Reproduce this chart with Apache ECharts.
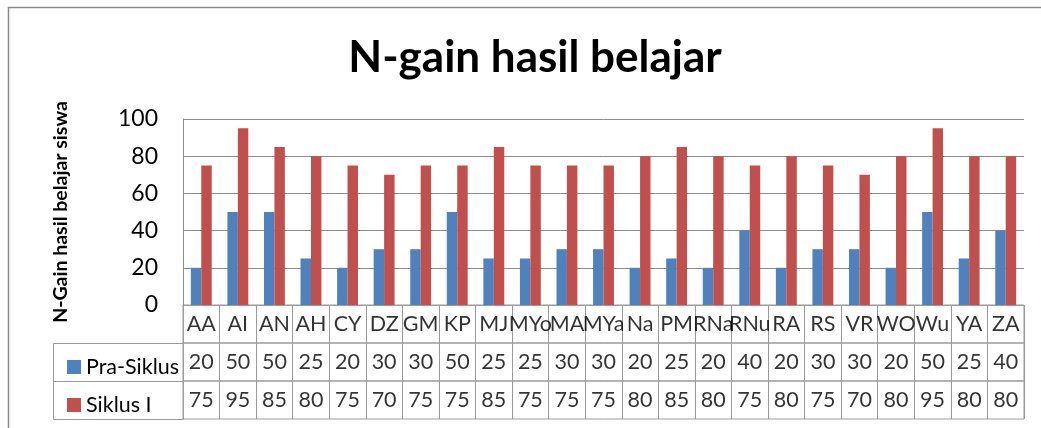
<!DOCTYPE html>
<html>
<head>
<meta charset="utf-8">
<script src="https://cdn.jsdelivr.net/npm/echarts@6/dist/echarts.min.js"></script>
<style>
html,body{margin:0;padding:0;background:#fff;}
#c{width:1041px;height:428px;}
</style>
</head>
<body>
<div id="c"></div>
<script>
const categories = ['AA','AI','AN','AH','CY','DZ','GM','KP','MJ','MYo','MA','MYa','Na','PM','RNa','RNu','RA','RS','VR','WO','Wu','YA','ZA'];
const praSiklus = [20,50,50,25,20,30,30,50,25,25,30,30,20,25,20,40,20,30,30,20,50,25,40];
const siklusI = [75,95,85,80,75,70,75,75,85,75,75,75,80,85,80,75,80,75,70,80,95,80,80];
const yTicks = [0,20,40,60,80,100];
const seriesNames = ['Pra-Siklus','Siklus I'];

const FONT = 'Lato';
const BLUE = '#4F81BD', RED = '#C0504D';
const GRIDC = '#8c8c8c', TABC = '#9a9a9a';
const L = 183, W = 841;

const chart = echarts.init(document.getElementById('c'), null, {renderer: 'canvas'});

function tableRowSeries(idx, labels) {
  return {
    type: 'scatter', xAxisIndex: idx, yAxisIndex: idx,
    symbolSize: 0, silent: true,
    data: labels.map((v, i) => [i, 0.5, v]),
    label: {
      show: true, position: 'inside',
      formatter: p => String(p.data[2]),
      fontFamily: FONT, fontSize: 21.5, color: '#000'
    }
  };
}

const rowTops = [305, 343, 381];
const grids = [{left: L, width: W, top: 119, height: 186}];
rowTops.forEach(t => grids.push({left: L, width: W, top: t, height: 38, show: true, borderColor: TABC, borderWidth: 1, backgroundColor: 'transparent'}));

const xAxes = [{
  type: 'category', gridIndex: 0, data: categories,
  axisLine: {show: true, lineStyle: {color: TABC}},
  axisTick: {show: false}, axisLabel: {show: false}
}];
const yAxes = [{
  type: 'value', gridIndex: 0, min: yTicks[0], max: yTicks[yTicks.length - 1], interval: yTicks[1] - yTicks[0],
  axisLine: {show: true, lineStyle: {color: GRIDC}},
  axisTick: {show: false},
  axisLabel: {fontFamily: FONT, fontSize: 23, color: '#000', margin: 25},
  splitLine: {show: true, lineStyle: {color: GRIDC, width: 1}},
  name: 'N-Gain hasil belajar siswa', nameLocation: 'middle', nameRotate: 90,
  nameGap: 112,
  nameTextStyle: {fontFamily: FONT, fontWeight: 'bold', fontSize: 19.5, color: '#000'}
}];
for (let k = 1; k <= 3; k++) {
  xAxes.push({
    type: 'category', gridIndex: k, data: categories,
    axisLine: {show: false}, axisTick: {show: false}, axisLabel: {show: false},
    splitLine: {show: true, lineStyle: {color: TABC, width: 1}}
  });
  yAxes.push({type: 'value', gridIndex: k, min: 0, max: 1, show: false});
}

const option = {
  animation: false,
  backgroundColor: '#fff',
  title: {
    text: 'N-gain hasil belajar', left: 530, top: 31, textAlign: 'center',
    textStyle: {fontFamily: FONT, fontWeight: 'bold', fontSize: 44, color: '#000'}
  },
  legend: [
    {data: [seriesNames[0]], left: 62, top: 351, itemWidth: 14, itemHeight: 14, itemGap: 0,
     icon: 'rect', textStyle: {fontFamily: FONT, fontSize: 21.5, color: '#000'}, selectedMode: false},
    {data: [seriesNames[1]], left: 62, top: 389, itemWidth: 14, itemHeight: 14, itemGap: 0,
     icon: 'rect', textStyle: {fontFamily: FONT, fontSize: 21.5, color: '#000'}, selectedMode: false}
  ],
  grid: grids,
  xAxis: xAxes,
  yAxis: yAxes,
  series: [
    {name: seriesNames[0], type: 'bar', data: praSiklus, itemStyle: {color: BLUE},
     barGap: '0%', barCategoryGap: '42.86%'},
    {name: seriesNames[1], type: 'bar', data: siklusI, itemStyle: {color: RED},
     barGap: '0%', barCategoryGap: '42.86%'},
    tableRowSeries(1, categories),
    tableRowSeries(2, praSiklus),
    tableRowSeries(3, siklusI)
  ],
  graphic: [
    {type: 'rect', shape: {x: 8.5, y: 7.5, width: 1100, height: 600}, style: {fill: 'none', stroke: '#8a8a8a', lineWidth: 1.5}, silent: true},
    {type: 'rect', shape: {x: 53.5, y: 343.5, width: 130, height: 76}, style: {fill: 'none', stroke: TABC, lineWidth: 1}, silent: true},
    {type: 'line', shape: {x1: 53.5, y1: 381.5, x2: 183.5, y2: 381.5}, style: {stroke: TABC, lineWidth: 1}, silent: true}
  ]
};
chart.setOption(option);
</script>
</body>
</html>
